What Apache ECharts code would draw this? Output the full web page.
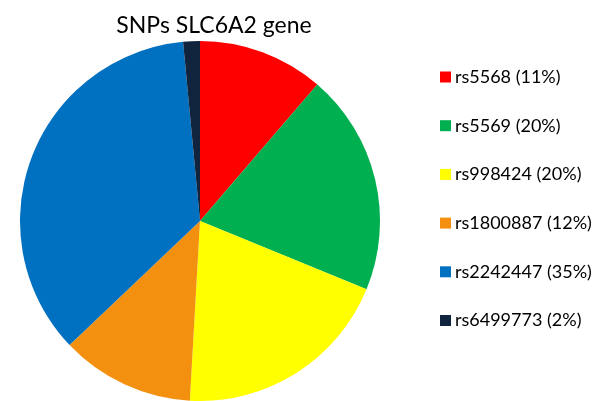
<!DOCTYPE html>
<html>
<head>
<meta charset="utf-8">
<script src="https://cdn.jsdelivr.net/npm/echarts@6/dist/echarts.min.js"></script>
<style>html,body{margin:0;padding:0;background:#fff}#c{width:602px;height:401px}</style>
</head>
<body>
<div id="c"></div>
<script>
var title = 'SNPs SLC6A2 gene';
var categories = ['rs5568', 'rs5569', 'rs998424', 'rs1800887', 'rs2242447', 'rs6499773'];
var values = [11.3, 19.9, 19.7, 12.0, 35.6, 1.5];
var legendLabels = ['rs5568 (11%)', 'rs5569 (20%)', 'rs998424 (20%)', 'rs1800887 (12%)', 'rs2242447 (35%)', 'rs6499773 (2%)'];
var colors = ['#FF0000', '#00B050', '#FFFF00', '#F39010', '#0070C0', '#10243E'];

var chart = echarts.init(document.getElementById('c'), null, {renderer: 'canvas'});
var labelMap = {};
categories.forEach(function (c, i) { labelMap[c] = legendLabels[i]; });
chart.setOption({
  animation: false,
  color: colors,
  title: {
    text: title,
    left: 209,
    textAlign: 'center',
    top: 9,
    textStyle: {fontFamily: 'Lato', fontSize: 23, fontWeight: 'normal', color: '#000'}
  },
  legend: {
    orient: 'vertical',
    left: 435,
    top: 62,
    padding: 5,
    itemWidth: 11,
    itemHeight: 11,
    itemGap: 28.7,
    icon: 'rect',
    data: categories,
    formatter: function (n) { return labelMap[n]; },
    textStyle: {fontFamily: 'Lato', fontSize: 18, color: '#000', lineHeight: 20, padding: [0, 0, 0, -1]}
  },
  series: [{
    type: 'pie',
    center: [200, 221],
    radius: 180,
    startAngle: 90,
    clockwise: true,
    label: {show: false},
    labelLine: {show: false},
    itemStyle: {borderWidth: 0},
    emphasis: {disabled: true},
    data: categories.map(function (c, i) { return {name: c, value: values[i]}; })
  }]
});
</script>
</body>
</html>
